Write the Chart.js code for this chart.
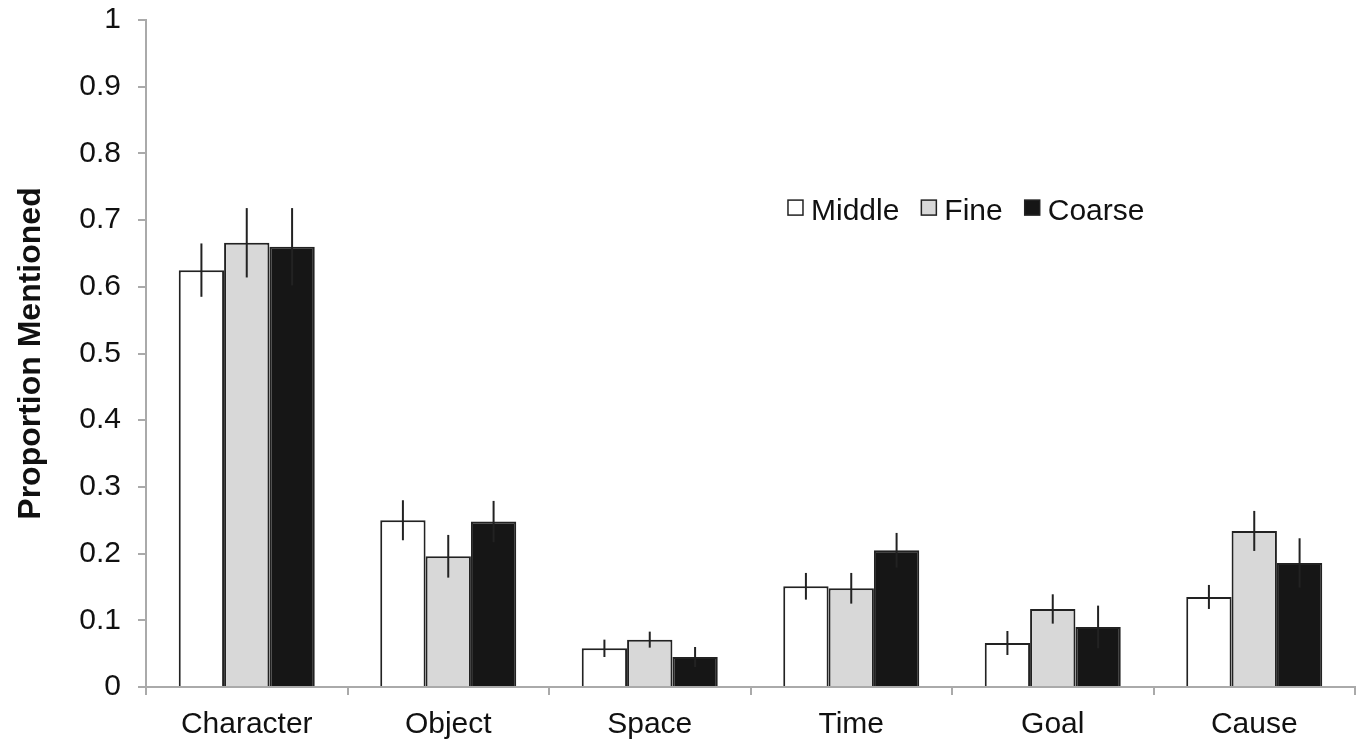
<!DOCTYPE html>
<html>
<head>
<meta charset="utf-8">
<script src="https://cdn.jsdelivr.net/npm/chart.js@4.4.0/dist/chart.umd.min.js"></script>
<style>
  body { margin: 0; background: #fff; }
  #wrap { width: 1361px; height: 745px; }
</style>
</head>
<body>
<div id="wrap"><canvas id="grafik" width="1361" height="745"></canvas></div>
<script>
const kategori = ['Character', 'Object', 'Space', 'Time', 'Goal', 'Cause'];

const nilaiMiddle = [0.625, 0.250, 0.058, 0.151, 0.066, 0.135];
const errMiddle   = [0.040, 0.030, 0.013, 0.020, 0.018, 0.018];

const nilaiFine = [0.666, 0.196, 0.071, 0.148, 0.117, 0.234];
const errFine   = [0.052, 0.032, 0.012, 0.023, 0.022, 0.030];

const nilaiCoarse = [0.660, 0.248, 0.045, 0.205, 0.090, 0.186];
const errCoarse   = [0.058, 0.031, 0.015, 0.026, 0.032, 0.037];

const labelTickY = ['0', '0.1', '0.2', '0.3', '0.4', '0.5', '0.6', '0.7', '0.8', '0.9', '1'];

const FONT = "'Liberation Sans', Arial, Helvetica, sans-serif";

// garis error, digambar setelah batang
const pluginError = {
    id: 'errorBars',
    afterDatasetsDraw(chart) {
        const ctx = chart.ctx;
        const y = chart.scales.y;
        ctx.save();
        ctx.strokeStyle = '#222';
        ctx.lineWidth = 2;
        chart.data.datasets.forEach((ds, i) => {
            const meta = chart.getDatasetMeta(i);
            meta.data.forEach((bar, j) => {
                const v = ds.data[j];
                const e = ds.errors[j];
                ctx.beginPath();
                ctx.moveTo(bar.x, y.getPixelForValue(v + e));
                ctx.lineTo(bar.x, y.getPixelForValue(v - e));
                ctx.stroke();
            });
        });
        ctx.restore();
    }
};

// legenda di dalam area grafik
const pluginLegenda = {
    id: 'legendaDalam',
    afterDraw(chart) {
        const ctx = chart.ctx;
        const area = chart.chartArea;
        let x = area.left + (area.right - area.left) * 0.531;
        const yTengah = chart.scales.y.getPixelForValue(0.712);
        ctx.save();
        ctx.font = '30px ' + FONT;
        ctx.textBaseline = 'middle';
        chart.data.datasets.forEach(ds => {
            ctx.fillStyle = ds.backgroundColor;
            ctx.fillRect(x, yTengah - 12, 15, 15);
            ctx.strokeStyle = '#222';
            ctx.lineWidth = 1.5;
            ctx.strokeRect(x, yTengah - 12, 15, 15);
            x += 23;
            ctx.fillStyle = '#111';
            ctx.fillText(ds.label, x, yTengah);
            x += ctx.measureText(ds.label).width + 22;
        });
        ctx.restore();
    }
};

const ctx = document.getElementById('grafik').getContext('2d');

new Chart(ctx, {
    type: 'bar',
    data: {
        labels: kategori,
        datasets: [
            { label: 'Middle', data: nilaiMiddle, errors: errMiddle, backgroundColor: '#ffffff' },
            { label: 'Fine', data: nilaiFine, errors: errFine, backgroundColor: '#d8d8d8' },
            { label: 'Coarse', data: nilaiCoarse, errors: errCoarse, backgroundColor: '#161616' }
        ].map(ds => Object.assign(ds, {
            borderColor: '#222',
            borderWidth: 2,
            borderSkipped: 'start',
            categoryPercentage: 0.675,
            barPercentage: 1.0
        }))
    },
    options: {
        responsive: false,
        animation: false,
        layout: { padding: { top: 20, right: 6, left: 0, bottom: 0 } },
        plugins: {
            legend: { display: false },
            tooltip: { enabled: false }
        },
        scales: {
            x: {
                grid: {
                    offset: true,
                    drawOnChartArea: false,
                    drawTicks: true,
                    tickLength: 8,
                    color: '#aaa',
                    lineWidth: 2
                },
                border: { display: true, color: '#aaa', width: 2 },
                ticks: {
                    color: '#111',
                    padding: 12,
                    font: { family: FONT, size: 30 }
                },
                afterFit(scale) { scale.height = 58; }
            },
            y: {
                min: 0,
                max: 1,
                ticks: {
                    stepSize: 0.1,
                    color: '#111',
                    padding: 17,
                    font: { family: FONT, size: 30 },
                    callback: (v, i) => labelTickY[i]
                },
                grid: {
                    drawOnChartArea: false,
                    drawTicks: true,
                    tickLength: 8,
                    color: '#aaa',
                    lineWidth: 2
                },
                border: { display: true, color: '#aaa', width: 2 },
                title: {
                    display: true,
                    text: 'Proportion Mentioned',
                    color: '#111',
                    padding: { top: 12, bottom: 0 },
                    font: { family: FONT, size: 32, weight: 'bold' }
                },
                afterFit(scale) {
                    scale.width = 146;
                    scale.paddingTop = 0;
                    scale.paddingBottom = 0;
                }
            }
        }
    },
    plugins: [pluginError, pluginLegenda]
});
</script>
</body>
</html>
